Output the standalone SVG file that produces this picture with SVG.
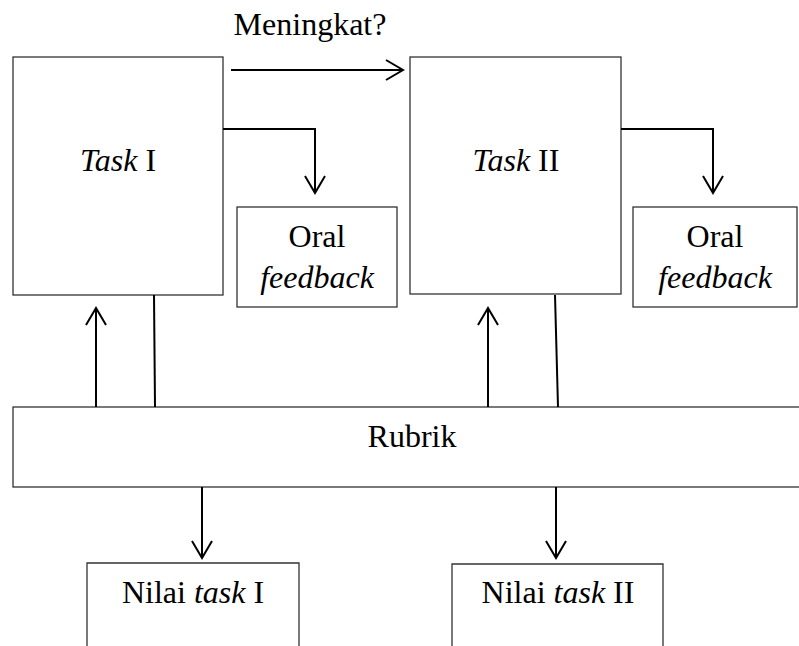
<svg xmlns="http://www.w3.org/2000/svg" width="799" height="646" viewBox="0 0 799 646">
<style>
.box{fill:#fff;stroke:#333;stroke-width:1.3}
.ln{fill:none;stroke:#000;stroke-width:2}
text{font-family:"Liberation Serif","Times New Roman",serif;font-size:32px;fill:#000;text-anchor:middle}
.it{font-style:italic}
</style>
<defs>
<marker id="ah" markerUnits="userSpaceOnUse" markerWidth="24" markerHeight="24" viewBox="-20 -12 24 24" refX="0" refY="0" orient="auto">
<path d="M-17,-10 L0,0 L-17,10" fill="none" stroke="#000" stroke-width="2"/>
</marker>
</defs>
<rect width="799" height="646" fill="#fff"/>
<g id="task1"><rect class="box" x="13" y="57" width="210" height="238"/><text x="118" y="171"><tspan class="it">Task</tspan> I</text></g>
<g id="task2"><rect class="box" x="410" y="57" width="211" height="237"/><text x="516" y="171"><tspan class="it">Task</tspan> II</text></g>
<g id="oral1"><rect class="box" x="237" y="207" width="160" height="100"/><text x="317" y="247">Oral</text><text class="it" x="317" y="288">feedback</text></g>
<g id="oral2"><rect class="box" x="633" y="207" width="164" height="100"/><text x="715" y="247">Oral</text><text class="it" x="715" y="288">feedback</text></g>
<g id="rubrik"><rect class="box" x="13" y="407" width="800" height="80"/><text x="412" y="447">Rubrik</text></g>
<g id="nilai1"><path class="box" d="M87,650 V563 H299 V650"/><text x="193" y="603">Nilai <tspan class="it">task</tspan> I</text></g>
<g id="nilai2"><path class="box" d="M452,650 V564 H663 V650"/><text x="558" y="603">Nilai <tspan class="it">task</tspan> II</text></g>
<g id="label"><text x="310" y="35">Meningkat?</text></g>
<g id="connectors">
<path class="ln" d="M231,70 H403" marker-end="url(#ah)"/>
<path class="ln" d="M223,129 H315 V193" marker-end="url(#ah)"/>
<path class="ln" d="M621,129 H713 V193" marker-end="url(#ah)"/>
<path class="ln" d="M96,407 V308" marker-end="url(#ah)"/>
<path class="ln" d="M488,407 V308" marker-end="url(#ah)"/>
<path class="ln" d="M154,295 L155,407"/>
<path class="ln" d="M555,295 L558,407"/>
<path class="ln" d="M202,487 V558" marker-end="url(#ah)"/>
<path class="ln" d="M556,487 V558" marker-end="url(#ah)"/>
</g>
</svg>
